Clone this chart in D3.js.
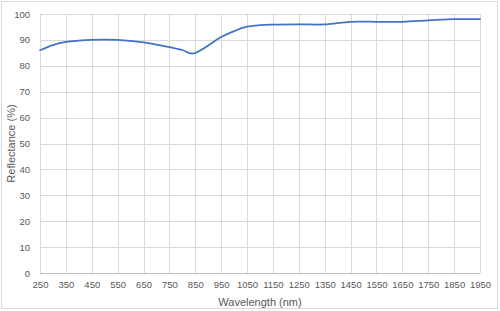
<!DOCTYPE html>
<html>
<head>
<meta charset="utf-8">
<script src="https://cdn.jsdelivr.net/npm/d3@7"></script>
<style>
  body { margin: 0; background: #fff; }
  text { font-family: "Liberation Sans", Arial, sans-serif; fill: #595959; }
</style>
</head>
<body>
<div id="chart"></div>
<script>
// wavelength (nm) and reflectance (%)
var wavelengths = [250, 300, 350, 400, 450, 500, 550, 600, 650, 700, 750, 800, 840, 950, 1000, 1050, 1100, 1150, 1250, 1350, 1450, 1550, 1650, 1750, 1850, 1950];
var reflectance = [86, 88, 89.2, 89.7, 90, 90.1, 90, 89.6, 89, 88.2, 87.2, 86.1, 84.7, 91.1, 93.4, 95.1, 95.7, 95.9, 96, 96, 97, 97, 97, 97.5, 98, 98];
var xTicks = [250, 350, 450, 550, 650, 750, 850, 950, 1050, 1150, 1250, 1350, 1450, 1550, 1650, 1750, 1850, 1950];
var yTicks = [0, 10, 20, 30, 40, 50, 60, 70, 80, 90, 100];

var W = 500, H = 311;
var margin = { top: 14, right: 20, bottom: 38, left: 40 },
  width = W - margin.left - margin.right,
  height = H - margin.top - margin.bottom;

var svg = d3.select("#chart")
  .append("svg")
  .attr("width", W)
  .attr("height", H);

// chart border
svg.append("rect")
  .attr("x", 1.5).attr("y", 1.5)
  .attr("width", W - 4).attr("height", H - 4)
  .attr("fill", "none")
  .attr("stroke", "#d9d9d9");

var g = svg.append("g")
  .attr("transform", "translate(" + margin.left + "," + margin.top + ")");

var x = d3.scaleLinear().domain([250, 1950]).range([0, width]);
var y = d3.scaleLinear().domain([0, 100]).range([height, 0]);

// gridlines
g.append("g").selectAll("line")
  .data(yTicks.filter(function (d) { return d > 0; }))
  .enter().append("line")
  .attr("x1", 0).attr("x2", width)
  .attr("y1", function (d) { return Math.round(y(d)) + 0.5; })
  .attr("y2", function (d) { return Math.round(y(d)) + 0.5; })
  .attr("stroke", "#d9d9d9");

g.append("g").selectAll("line")
  .data(xTicks)
  .enter().append("line")
  .attr("x1", function (d) { return Math.round(x(d)) + 0.5; })
  .attr("x2", function (d) { return Math.round(x(d)) + 0.5; })
  .attr("y1", 0).attr("y2", height)
  .attr("stroke", "#d9d9d9");

// x axis
var xAxis = g.append("g")
  .attr("transform", "translate(0," + (Math.round(height) + 0.5) + ")")
  .call(d3.axisBottom(x).tickValues(xTicks).tickSize(0).tickPadding(8).tickFormat(d3.format("d")));
xAxis.select(".domain").attr("stroke", "#bfbfbf").attr("d", "M0,0H" + width);
xAxis.selectAll("text").style("font-size", "9.5px").attr("fill", "#595959");

// y axis
var yAxis = g.append("g")
  .call(d3.axisLeft(y).tickValues(yTicks).tickSize(0).tickPadding(10));
yAxis.select(".domain").remove();
yAxis.selectAll("text").style("font-size", "9.5px").attr("fill", "#595959");

// line
var line = d3.line()
  .x(function (d, i) { return x(wavelengths[i]); })
  .y(function (d) { return y(d); })
  .curve(d3.curveCatmullRom.alpha(0.5));

g.append("path")
  .datum(reflectance)
  .attr("fill", "none")
  .attr("stroke", "#4472c4")
  .attr("stroke-width", 1.75)
  .attr("stroke-linecap", "round")
  .attr("d", line);

// axis titles
svg.append("text")
  .attr("text-anchor", "middle")
  .attr("x", margin.left + width / 2)
  .attr("y", 306)
  .style("font-size", "11px")
  .text("Wavelength (nm)");

svg.append("text")
  .attr("text-anchor", "middle")
  .attr("transform", "translate(15," + (margin.top + height / 2) + ") rotate(-90)")
  .style("font-size", "11px")
  .text("Reflectance (%)");
</script>
</body>
</html>
